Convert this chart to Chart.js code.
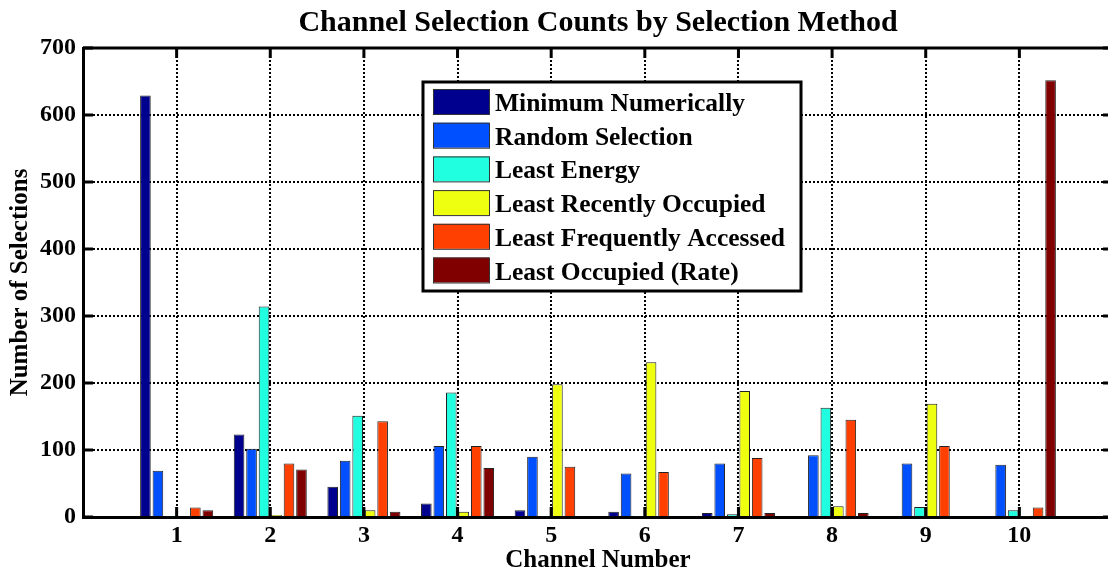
<html>
<head>
	<meta charset="utf-8">
	<title>Channel Selection Counts by Selection Method</title>
	<script src="https://cdn.jsdelivr.net/npm/chart.js"></script>
	<style>
		html, body { margin: 0; padding: 0; overflow: hidden; background: #fff; }
		#chart { width: 1125px; height: 573px; }
	</style>
</head>
<body>
	<!-- le graphique deborde un peu a droite, comme dans la figure d'origine -->
	<div id="chart">
		<canvas id="myChart" width="1125" height="573"></canvas>
	</div>

	<script>
		// numeros des canaux
		var channels = [1, 2, 3, 4, 5, 6, 7, 8, 9, 10];

		// nombre de selections par methode
		var minNumerically    = [629, 123, 45, 20, 10, 8, 6, 1, 0, 1];
		var randomSelection   = [69, 102, 84, 106, 90, 65, 80, 92, 80, 78];
		var leastEnergy       = [1, 314, 151, 186, 1, 1, 4, 163, 15, 10];
		var leastRecently     = [0, 3, 10, 8, 198, 231, 188, 16, 169, 1];
		var leastFrequently   = [14, 80, 143, 106, 75, 67, 88, 145, 106, 14];
		var leastOccupiedRate = [10, 71, 8, 73, 1, 0, 6, 6, 0, 652];

		var yTicks = [0, 100, 200, 300, 400, 500, 600, 700];

		var police = '"Liberation Serif", "Times New Roman", serif';

		// cadre du haut et de droite + petits traits vers l'interieur (style matlab)
		var cadre = {
			id: 'cadre',
			afterDraw: function(chart) {
				var ctx = chart.ctx, a = chart.chartArea;
				var x = chart.scales.x, y = chart.scales.y;
				ctx.save();
				ctx.strokeStyle = '#000';
				ctx.lineWidth = 3;
				ctx.beginPath();
				ctx.moveTo(a.left, a.top);
				ctx.lineTo(a.right, a.top);
				ctx.lineTo(a.right, a.bottom);
				ctx.stroke();

				ctx.beginPath();
				x.ticks.forEach(function(t) {
					var px = x.getPixelForValue(t.value);
					ctx.moveTo(px, a.bottom); ctx.lineTo(px, a.bottom - 10);
					ctx.moveTo(px, a.top); ctx.lineTo(px, a.top + 10);
				});
				y.ticks.forEach(function(t) {
					var py = y.getPixelForValue(t.value);
					ctx.moveTo(a.left, py); ctx.lineTo(a.left + 10, py);
					ctx.moveTo(a.right, py); ctx.lineTo(a.right - 10, py);
				});
				ctx.stroke();
				ctx.restore();
			}
		};

		// legende dans le graphique, a partir des datasets
		var legende = {
			id: 'legende',
			afterDraw: function(chart) {
				var ctx = chart.ctx;
				ctx.save();
				ctx.fillStyle = '#fff';
				ctx.fillRect(423, 82, 378, 209);
				ctx.lineWidth = 3;
				ctx.strokeStyle = '#000';
				ctx.strokeRect(423, 82, 378, 209);

				chart.data.datasets.forEach(function(ds, i) {
					var y0 = 89 + i * 33.7;
					ctx.fillStyle = ds.backgroundColor;
					ctx.fillRect(433, y0, 56, 25);
					ctx.lineWidth = 1;
					ctx.strokeStyle = '#333';
					ctx.strokeRect(433.5, y0 + 0.5, 56, 25);
					ctx.fillStyle = '#000';
					ctx.font = 'bold 25.5px ' + police;
					ctx.textBaseline = 'alphabetic';
					ctx.fillText(ds.label, 495, y0 + 22);
				});
				ctx.restore();
			}
		};

		var ctx = document.getElementById('myChart').getContext('2d');
		var chart = new Chart(ctx, {
			type: 'bar',
			data: {
				labels: channels,
				datasets: [
					{ label: 'Minimum Numerically', data: minNumerically, backgroundColor: '#00008F' },
					{ label: 'Random Selection', data: randomSelection, backgroundColor: '#0050FF' },
					{ label: 'Least Energy', data: leastEnergy, backgroundColor: '#20FFDF' },
					{ label: 'Least Recently Occupied', data: leastRecently, backgroundColor: '#EFFF10' },
					{ label: 'Least Frequently Accessed', data: leastFrequently, backgroundColor: '#FF4000' },
					{ label: 'Least Occupied (Rate)', data: leastOccupiedRate, backgroundColor: '#800000' }
				]
			},
			options: {
				responsive: false,
				animation: false,
				layout: { padding: { left: 0, right: 12, top: 0, bottom: 0 } },
				datasets: {
					bar: {
						categoryPercentage: 0.8,
						barPercentage: 0.85,
						borderColor: '#222',
						borderWidth: 1
					}
				},
				scales: {
					x: {
						type: 'linear',
						min: 0,
						max: 11,
						offset: false,
						afterBuildTicks: function(s) {
							s.ticks = channels.map(function(c) { return { value: c }; });
						},
						afterFit: function(s) { s.height = 56; },
						ticks: {
							color: '#000',
							padding: 4,
							font: { family: police, size: 24, weight: 'bold' }
						},
						grid: { color: '#000', lineWidth: 2, drawTicks: false, offset: false },
						border: { color: '#000', width: 3, dash: [2, 2] },
						title: {
							display: true,
							text: 'Channel Number',
							color: '#000',
							padding: { top: 0, bottom: 0 },
							font: { family: police, size: 25, weight: 'bold', lineHeight: 1 }
						}
					},
					y: {
						min: 0,
						max: 700,
						afterBuildTicks: function(s) {
							s.ticks = yTicks.map(function(v) { return { value: v }; });
						},
						afterFit: function(s) { s.width = 83; },
						ticks: {
							color: '#000',
							padding: 7,
							font: { family: police, size: 24, weight: 'bold' }
						},
						grid: { color: '#000', lineWidth: 2, drawTicks: false },
						border: { color: '#000', width: 3, dash: [2, 2] },
						title: {
							display: true,
							text: 'Number of Selections',
							color: '#000',
							padding: { top: 8, bottom: 0 },
							font: { family: police, size: 25, weight: 'bold', lineHeight: 1 }
						}
					}
				},
				plugins: {
					legend: { display: false },
					tooltip: { enabled: false },
					title: {
						display: true,
						fullSize: false,
						text: 'Channel Selection Counts by Selection Method',
						color: '#000',
						padding: { top: 5, bottom: 7 },
						font: { family: police, size: 30, weight: 'bold', lineHeight: 1.2 }
					}
				}
			},
			plugins: [cadre, legende]
		});
	</script>
</body>
</html>
